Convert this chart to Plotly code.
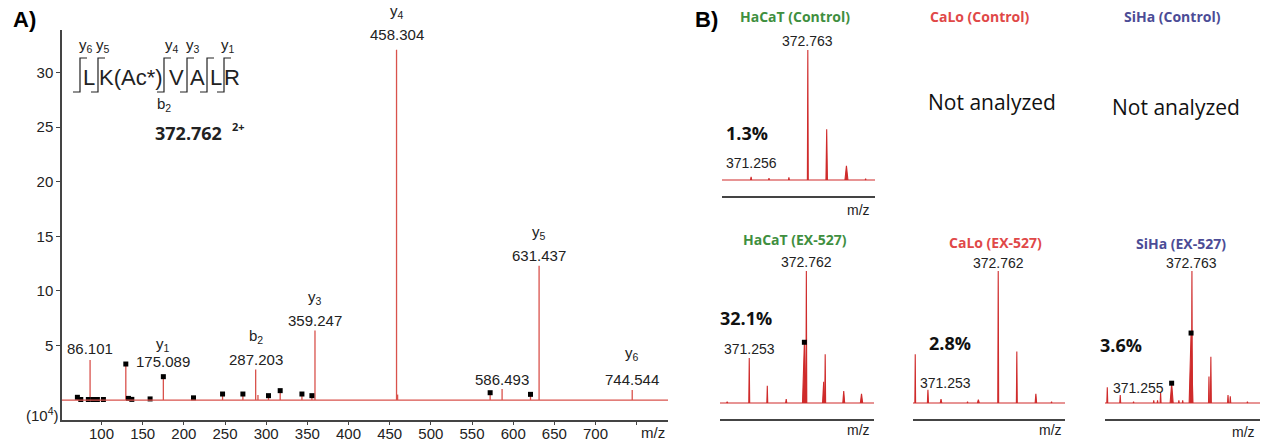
import plotly.graph_objects as go

W, H = 1262, 442

# ---------------- DATA ----------------
# Panel A: MS/MS spectrum (intensity x 10^4)
a_mz = [86.101, 175.089, 287.203, 359.247, 458.304, 586.493, 631.437, 744.544]
a_int = [3.67, 2.14, 2.80, 6.36, 32.1, 1.00, 12.3, 0.92]
a_ion = ["", "y<sub>1</sub>", "b<sub>2</sub>", "y<sub>3</sub>", "y<sub>4</sub>", "", "y<sub>5</sub>", "y<sub>6</sub>"]
a_value_text = ["86.101", "175.089", "287.203", "359.247", "458.304", "586.493", "631.437", "744.544"]
a_marked = [False, True, False, False, False, False, False, False]

a_minor_mz = [70.7, 74.8, 84.0, 90.2, 95.0, 102.3, 129.5, 132.7, 136.8, 159.0,
              211.7, 247.0, 271.7, 302.8, 317.0, 343.4, 355.5, 572.0, 621.0]
a_minor_int = [0.25, 0.05, 0.05, 0.05, 0.05, 0.05, 3.30, 0.15, 0.06, 0.10,
               0.20, 0.55, 0.55, 0.40, 0.86, 0.55, 0.40, 0.67, 0.52]
a_other_mz = [290.0, 459.6]
a_other_int = [0.45, 0.50]

a_x_ticks = [100, 150, 200, 250, 300, 350, 400, 450, 500, 550, 600, 650, 700, 750]
a_x_ticktext = ["100", "150", "200", "250", "300", "350", "400", "450", "500", "550", "600", "650", "700", ""]
a_y_ticks = [5, 10, 15, 20, 25, 30]

# Panel B: isotope envelopes (relative intensity)
hc_ctrl_mz = [371.254, 371.73, 372.26, 372.763, 373.265, 373.79, 374.30]
hc_ctrl_int = [0.025, 0.015, 0.02, 1.0, 0.39, 0.11, 0.01]
hc_ctrl_w = [0.015, 0.01, 0.012, 0.012, 0.02, 0.04, 0.01]

hc_ex_mz = [370.67, 371.253, 371.73, 372.23, 372.71, 372.762, 373.22, 373.26, 373.75, 374.22]
hc_ex_int = [0.01, 0.34, 0.13, 0.03, 0.46, 1.0, 0.16, 0.37, 0.09, 0.07]
hc_ex_w = [0.015, 0.012, 0.012, 0.015, 0.05, 0.012, 0.03, 0.012, 0.025, 0.03]

calo_ex_mz = [370.54, 370.88, 371.23, 371.94, 372.23, 372.762, 373.26, 373.77, 374.19]
calo_ex_int = [0.37, 0.10, 0.03, 0.01, 0.025, 1.0, 0.39, 0.07, 0.01]
calo_ex_w = [0.01, 0.015, 0.02, 0.01, 0.025, 0.012, 0.012, 0.02, 0.01]

siha_ex_mz = [370.54, 370.88, 371.23, 371.76, 371.86, 371.94, 372.23, 372.42, 372.52,
              372.74, 372.763, 373.21, 373.26, 373.71, 373.77, 374.22]
siha_ex_int = [0.12, 0.06, 0.01, 0.02, 0.02, 0.08, 0.15, 0.02, 0.02,
               0.53, 1.0, 0.20, 0.35, 0.06, 0.05, 0.01]
siha_ex_w = [0.012, 0.012, 0.01, 0.01, 0.01, 0.012, 0.04, 0.01, 0.01,
             0.05, 0.012, 0.012, 0.012, 0.012, 0.012, 0.01]

hc_ex_dots = ([372.71], [0.46])
siha_ex_dots = ([372.23, 372.74], [0.15, 0.53])

percent_text = ["1.3%", "32.1%", "2.8%", "3.6%"]

# ---------------- STYLE ----------------
RED_A = "#d9524c"
RED_B = "#cf2b2b"
AX = "#444444"
TXT = "#222222"
SANS = "Liberation Sans, Arial, sans-serif"
CAL = "Open Sans, Lato, sans-serif"
GREEN = "#3f8f3f"
CRED = "#e04848"
BLUE = "#4c4c96"


def px(x):
    return x / W


def py(y):
    return 1 - y / H


def sticks(mz, it):
    xs, ys = [], []
    for m, h in zip(mz, it):
        xs += [m, m, None]
        ys += [0, h, None]
    return xs, ys


def tri(mz, it, w):
    xs, ys = [], []
    for m, h, ww in zip(mz, it, w):
        xs += [m - ww, m, m + ww, None]
        ys += [0, h, 0, None]
    return xs, ys


def note(xx, yy, text, size, family=SANS, color=TXT):
    return dict(x=px(xx), y=py(yy), xref="paper", yref="paper", text=text, showarrow=False,
                xanchor="center", yanchor="middle", font=dict(family=family, size=size, color=color))


fig = go.Figure()

# ---- Panel A traces ----
A_XR = [52, 788]
A_YR = [-1.83, 33.9]
sx, sy = sticks(a_mz + a_minor_mz + a_other_mz, a_int + a_minor_int + a_other_int)
fig.add_trace(go.Scatter(x=sx, y=sy, mode="lines", line=dict(color=RED_A, width=1.3),
                         hoverinfo="skip", showlegend=False, xaxis="x", yaxis="y"))
dot_x = a_minor_mz + [m for m, k in zip(a_mz, a_marked) if k]
dot_y = a_minor_int + [h for h, k in zip(a_int, a_marked) if k]
fig.add_trace(go.Scatter(x=dot_x, y=dot_y, mode="markers",
                         marker=dict(symbol="square", size=5, color="black"),
                         showlegend=False, xaxis="x", yaxis="y"))

# ---- Panel B traces ----
B_XR = [370.48, 374.55]
insets = [
    ("x2", "y2", hc_ctrl_mz, hc_ctrl_int, hc_ctrl_w, None),
    ("x3", "y3", hc_ex_mz, hc_ex_int, hc_ex_w, hc_ex_dots),
    ("x4", "y4", calo_ex_mz, calo_ex_int, calo_ex_w, None),
    ("x5", "y5", siha_ex_mz, siha_ex_int, siha_ex_w, siha_ex_dots),
]
for xa, ya, mz, it, w, dots in insets:
    tx, ty = tri(mz, it, w)
    fig.add_trace(go.Scatter(x=tx, y=ty, mode="lines", fill="toself", fillcolor=RED_B,
                             line=dict(color=RED_B, width=1.1), hoverinfo="skip",
                             showlegend=False, xaxis=xa, yaxis=ya))
    if dots:
        fig.add_trace(go.Scatter(x=dots[0], y=dots[1], mode="markers",
                                 marker=dict(symbol="square", size=5, color="black"),
                                 showlegend=False, xaxis=xa, yaxis=ya))

shapes = []
annotations = []

# baselines
shapes.append(dict(type="line", xref="x", yref="y", x0=A_XR[0], x1=A_XR[1], y0=0, y1=0,
                   line=dict(color=RED_A, width=1.3)))
for xa, ya, *_ in insets:
    shapes.append(dict(type="line", xref=xa, yref=ya, x0=B_XR[0], x1=B_XR[1], y0=0, y1=0,
                       line=dict(color=RED_B, width=1.1)))

# ---- Panel A annotations ----
value_shift = [11, 15, 10, 10, 15, 10, 10, 10]
ion_shift = [0, 32, 33, 33, 38, 0, 33, 36]
for m, h, v, ion, vs, isf in zip(a_mz, a_int, a_value_text, a_ion, value_shift, ion_shift):
    annotations.append(dict(x=m, y=h, xref="x", yref="y", text=v, showarrow=False,
                            yshift=vs, xanchor="center", yanchor="middle",
                            font=dict(family=SANS, size=15, color=TXT)))
    if ion:
        annotations.append(dict(x=m, y=h, xref="x", yref="y", text=ion, showarrow=False,
                                yshift=isf, xanchor="center", yanchor="middle",
                                font=dict(family=SANS, size=15, color=TXT)))

annotations.append(note(653, 432, "m/z", 15))
annotations.append(note(42, 414, "(10<sup>4</sup>)", 15))
annotations.append(note(24, 20, "<b>A)</b>", 22, color="black"))
annotations.append(note(707, 20, "<b>B)</b>", 22, color="black"))

# peptide sequence with fragment brackets
seq = ["L", "K(Ac*)", "V", "A", "L", "R"]
seq_x = [89, 131, 176, 197, 215.5, 232]
for s, xx in zip(seq, seq_x):
    annotations.append(note(xx, 77, s, 22))
brk_x = [80, 98, 164, 187, 207, 224]
for bx in brk_x:
    path = "M {:.5f},{:.5f} L {:.5f},{:.5f} L {:.5f},{:.5f} L {:.5f},{:.5f}".format(
        px(bx - 7), py(92), px(bx), py(92), px(bx), py(58), px(bx + 7), py(58))
    shapes.append(dict(type="path", xref="paper", yref="paper", path=path,
                       line=dict(color=TXT, width=1.2)))
frag_labels = [("y<sub>6</sub>", 86, 46), ("y<sub>5</sub>", 103, 46), ("y<sub>4</sub>", 172, 46),
               ("y<sub>3</sub>", 193, 46), ("y<sub>1</sub>", 228, 46), ("b<sub>2</sub>", 164, 104)]
for t, xx, yy in frag_labels:
    annotations.append(note(xx, yy, t, 15))
annotations.append(note(188, 133, "<b>372.762</b>", 18, family=CAL))
annotations.append(note(238, 127, "<b>2+</b>", 11, family=CAL))

# ---- Panel B annotations ----
titles = [("HaCaT (Control)", 795, 17, GREEN), ("CaLo (Control)", 980, 17, CRED),
          ("SiHa (Control)", 1172, 17, BLUE), ("HaCaT (EX-527)", 795, 240, GREEN),
          ("CaLo (EX-527)", 995, 242, CRED), ("SiHa (EX-527)", 1181, 243, BLUE)]
for t, xx, yy, c in titles:
    annotations.append(note(xx, yy, "<b>" + t + "</b>", 14, family=CAL, color=c))
for xx, yy in [(992, 102), (1176, 107)]:
    annotations.append(note(xx, yy, "Not analyzed", 21, family=CAL, color="#111111"))
for t, (xx, yy) in zip(percent_text, [(747, 133), (746, 318), (950, 343), (1121, 345)]):
    annotations.append(note(xx, yy, "<b>" + t + "</b>", 18, family=CAL, color="#111111"))
for xx, yy in [(858, 210), (858, 430), (1050, 430), (1243, 432)]:
    annotations.append(note(xx, yy, "m/z", 14))

b_labels = [
    ("x2", "y2", 372.763, 1.0, "372.763", 0, 9),
    ("x2", "y2", 371.256, 0.0, "371.256", 0, 17),
    ("x3", "y3", 372.762, 1.0, "372.762", 0, 9),
    ("x3", "y3", 371.253, 0.34, "371.253", 0, 9),
    ("x4", "y4", 372.762, 1.0, "372.762", 0, 8),
    ("x4", "y4", 371.253, 0.0, "371.253", 4, 20),
    ("x5", "y5", 372.763, 1.0, "372.763", 0, 8),
    ("x5", "y5", 371.255, 0.0, "371.255", 4, 15),
]
for xa, ya, xv, yv, t, xs_, ys_ in b_labels:
    annotations.append(dict(x=xv, y=yv, xref=xa, yref=ya, text=t, showarrow=False,
                            xshift=xs_, yshift=ys_, xanchor="center", yanchor="middle",
                            font=dict(family=SANS, size=14, color=TXT)))

# ---------------- LAYOUT ----------------
tick_font = dict(family=SANS, size=15, color=TXT)
layout = dict(
    width=W, height=H, autosize=False,
    margin=dict(l=0, r=0, t=0, b=0, pad=0, autoexpand=False),
    paper_bgcolor="white", plot_bgcolor="white", showlegend=False,
    xaxis=dict(domain=[px(62), px(668)], range=A_XR, showline=True, linecolor=AX, linewidth=1.5,
               ticks="outside", ticklen=3, tickcolor=AX, tickvals=a_x_ticks, ticktext=a_x_ticktext,
               ticklabelstandoff=-4,
               tickfont=tick_font, showgrid=False, zeroline=False, anchor="y", automargin=False),
    yaxis=dict(domain=[py(420), py(30)], range=A_YR, showline=True, linecolor=AX, linewidth=1.5,
               ticks="outside", ticklen=4, tickcolor=AX, tickvals=a_y_ticks,
               tickfont=tick_font, showgrid=False, zeroline=False, anchor="x", automargin=False),
    shapes=shapes, annotations=annotations,
)
inset_dom = {
    "2": ([722, 875], [196, 40]),
    "3": ([720, 874], [419, 262]),
    "4": ([913, 1065], [419, 262]),
    "5": ([1105, 1260], [419, 262]),
}
for k, (xd, yd) in inset_dom.items():
    base = {"2": 180, "3": 403, "4": 403, "5": 403}[k]
    top = {"2": 50, "3": 271, "4": 271, "5": 271}[k]
    scale = base - top
    yr = [(base - yd[0]) / scale, (base - yd[1]) / scale]
    layout["xaxis" + k] = dict(domain=[px(xd[0]), px(xd[1])], range=B_XR, showline=True,
                               linecolor=AX, linewidth=1.5, showticklabels=False, ticks="",
                               showgrid=False, zeroline=False, anchor="y" + k, automargin=False)
    layout["yaxis" + k] = dict(domain=[py(yd[0]), py(yd[1])], range=yr, visible=False,
                               showgrid=False, zeroline=False, anchor="x" + k, automargin=False)

fig.update_layout(**layout)
fig.write_html("out.html", config={"displayModeBar": False},
               post_script="document.body.style.margin='0';document.body.style.padding='0';")
